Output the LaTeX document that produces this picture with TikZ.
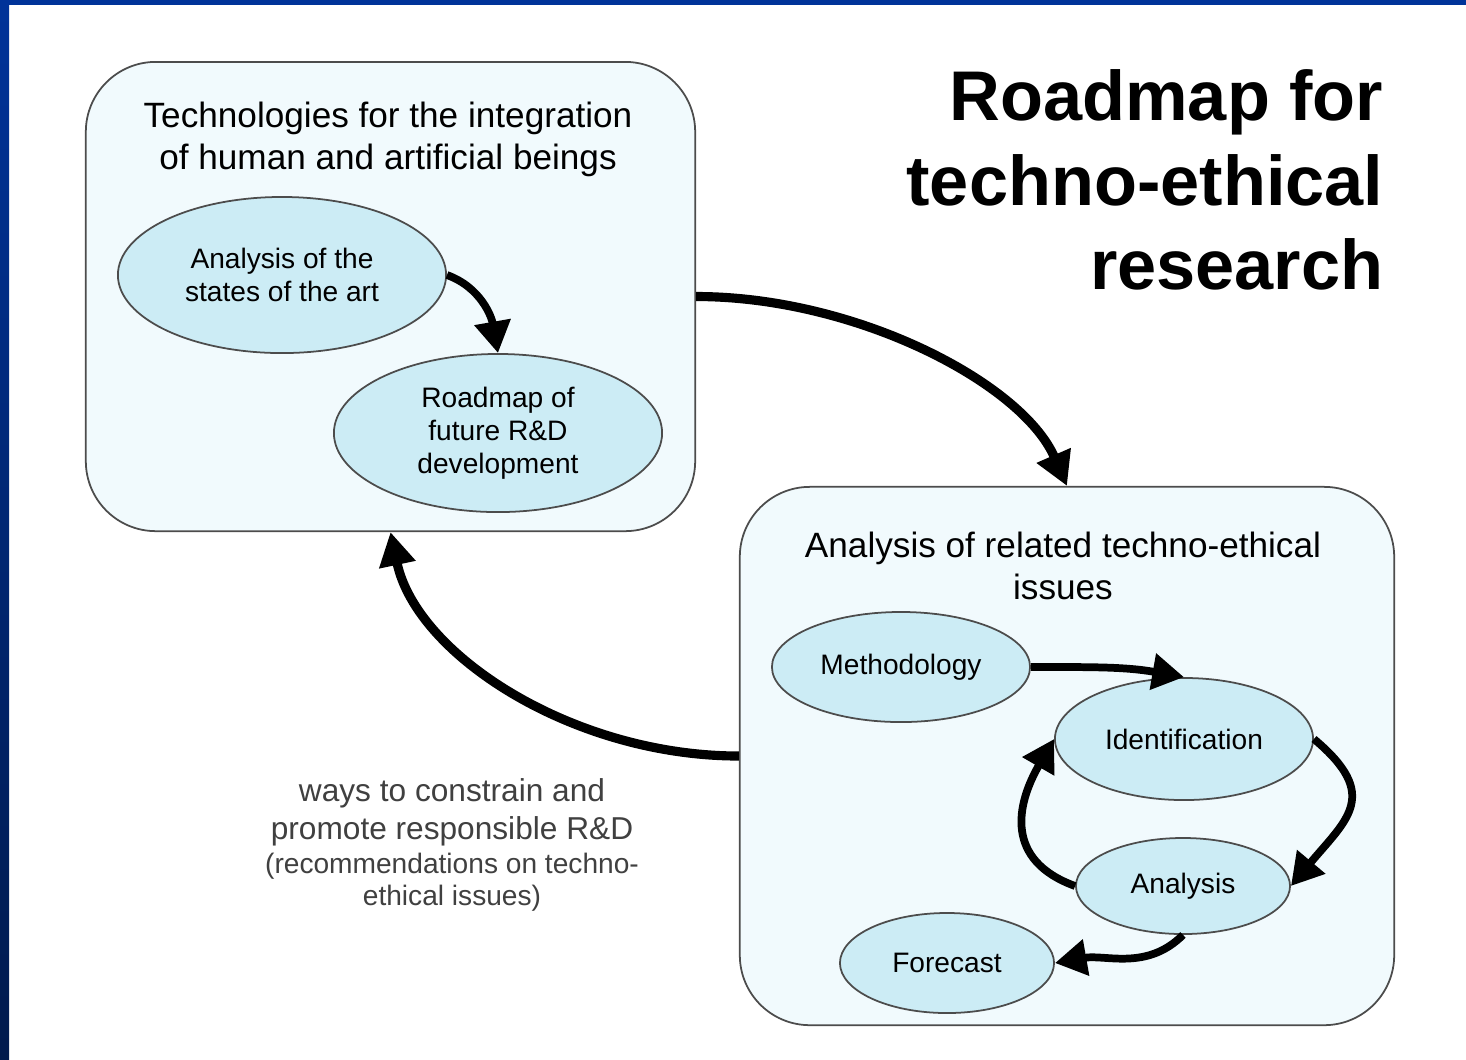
\documentclass[tikz,border=0pt]{standalone}
\usepackage{fontspec}
\setmainfont{Liberation Sans}
\usetikzlibrary{shapes.geometric,arrows.meta}
\definecolor{slideblue}{RGB}{0,51,153}
\definecolor{slidenavy}{RGB}{0,26,77}
\definecolor{boxfill}{RGB}{241,250,253}
\definecolor{ovalfill}{RGB}{204,236,245}
\definecolor{notegray}{RGB}{64,64,64}

\begin{document}
\begin{tikzpicture}[x=0.01cm, y=0.01cm,
  panel/.style={draw=black!70, line width=0.5pt, fill=boxfill, rounded corners=0.7cm, inner sep=0pt},
  oval/.style={ellipse, draw=black!70, line width=0.5pt, fill=ovalfill, inner sep=0pt, align=center, font=\fontsize{8}{9.3}\selectfont},
  flow/.style={line width=2.2pt, -{Triangle[length=9pt, width=10pt]}},
  bigflow/.style={line width=2.6pt, -{Triangle[length=9.5pt, width=10pt]}},
  heading/.style={align=center, inner sep=0pt, font=\fontsize{10}{12}\selectfont},
  note/.style={align=center, inner sep=0pt, text=notegray}]
\useasboundingbox (0,0) rectangle (1466,-1059);
\fill[white] (0,0) rectangle (1466,-1059);
\fill[slideblue] (0,0) rectangle (1466,-5);
\shade[top color=slideblue, bottom color=slidenavy] (0,0) rectangle (9,-1059);

\node[panel, minimum width=6.09cm, minimum height=4.69cm] (tech) at (390.5,-296.5) {};
\node[panel, minimum width=6.54cm, minimum height=5.38cm] (issues) at (1067,-756) {};

\node[heading] (techtitle) at (388,-139) {Technologies for the integration\\of human and artificial beings};
\node[heading] (issuestitle) at (1063,-566) {Analysis of related techno-ethical\\issues};

\node[anchor=east, align=right, inner sep=0pt, font=\bfseries\fontsize{20}{24}\selectfont] (title) at (1384,-180) {Roadmap for\\techno-ethical\\research};

\node[oval, minimum width=3.28cm, minimum height=1.56cm] (state) at (282,-275) {Analysis of the\\states of the art};
\node[oval, minimum width=3.28cm, minimum height=1.58cm] (plan) at (498,-433) {Roadmap of\\future R\&D\\development};

\node[oval, minimum width=2.58cm, minimum height=1.10cm] (method) at (901,-667) {Methodology};
\node[oval, minimum width=2.58cm, minimum height=1.22cm] (ident) at (1184,-739) {Identification};
\node[oval, minimum width=2.14cm, minimum height=0.96cm] (analysis) at (1183,-886) {Analysis};
\node[oval, minimum width=2.14cm, minimum height=1.00cm] (forecast) at (947,-963) {Forecast};

\node[note, font=\fontsize{9}{10.8}\selectfont] (ways) at (452,-812) {ways to constrain and\\promote responsible R\&D};
\node[note, font=\fontsize{8}{9.1}\selectfont] (recs) at (452,-882) {(recommendations on techno-\\ethical issues)};

\draw[flow] (state.east) to[out=-20, in=100] (plan.north);
\draw[bigflow] (tech.east) .. controls +(160,0) and +(-45,103) .. (issues.north);
\draw[bigflow] (issues.west) .. controls +(-166,0) and +(26,-123) .. (tech.south);
\draw[flow] (method.east) to[out=0, in=170] (ident.north);
\draw[flow] (ident.east) to[out=-40, in=50, looseness=1.5] (analysis.east);
\draw[flow] (analysis.west) to[out=160, in=-120, looseness=1.3] (ident.west);
\draw[flow] (analysis.south) to[out=-135, in=10] (forecast.east);
\end{tikzpicture}
\end{document}
